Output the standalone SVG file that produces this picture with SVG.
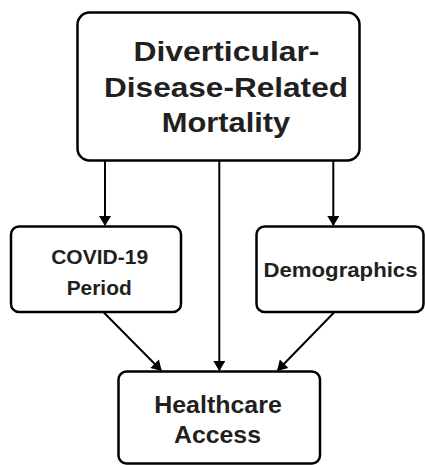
<svg xmlns="http://www.w3.org/2000/svg" width="425" height="465" viewBox="0 0 425 465">
<style>
.box{fill:#fff;stroke:#000;stroke-width:2.5}
.lbl{font-family:"Liberation Sans",Arial,sans-serif;font-weight:bold;fill:#231f20;text-anchor:middle}
.con{stroke:#000;stroke-width:2;fill:none}
</style>
<defs>
<marker id="ah" markerUnits="userSpaceOnUse" markerWidth="12" markerHeight="12" viewBox="0 0 10 12" refX="9" refY="6" orient="auto">
<path d="M0,0 L10,6 L0,12 z" fill="#000"/>
</marker>
</defs>
<rect width="425" height="465" fill="#fff"/>
<g id="connectors">
<line class="con" x1="105" y1="161" x2="105" y2="225" marker-end="url(#ah)"/>
<line class="con" x1="333.3" y1="161" x2="333.3" y2="225" marker-end="url(#ah)"/>
<line class="con" x1="219.3" y1="161" x2="219.3" y2="370" marker-end="url(#ah)"/>
<line class="con" x1="103.8" y1="312.5" x2="161" y2="370.2" marker-end="url(#ah)"/>
<line class="con" x1="334" y1="312.5" x2="277.8" y2="370.2" marker-end="url(#ah)"/>
</g>
<g id="mortality">
<rect class="box" x="77.5" y="12.5" width="282" height="148" rx="12"/>
<text class="lbl" font-size="28" x="226.5" y="61" textLength="186" lengthAdjust="spacingAndGlyphs">Diverticular-</text>
<text class="lbl" font-size="28" x="226" y="96.7" textLength="244" lengthAdjust="spacingAndGlyphs">Disease-Related</text>
<text class="lbl" font-size="28" x="226" y="131.5" textLength="128.5" lengthAdjust="spacingAndGlyphs">Mortality</text>
</g>
<g id="covid">
<rect class="box" x="11" y="226.5" width="170" height="85.5" rx="8"/>
<text class="lbl" font-size="19.5" x="99.7" y="263.5" textLength="97" lengthAdjust="spacingAndGlyphs">COVID-19</text>
<text class="lbl" font-size="19.5" x="99.2" y="295" textLength="65" lengthAdjust="spacingAndGlyphs">Period</text>
</g>
<g id="demographics">
<rect class="box" x="256.5" y="226.5" width="167" height="85.5" rx="8"/>
<text class="lbl" font-size="20" x="340.5" y="276.7" textLength="154" lengthAdjust="spacingAndGlyphs">Demographics</text>
</g>
<g id="healthcare">
<rect class="box" x="118.5" y="371.5" width="201.5" height="92" rx="8"/>
<text class="lbl" font-size="23" x="218" y="413.3" textLength="127.5" lengthAdjust="spacingAndGlyphs">Healthcare</text>
<text class="lbl" font-size="23" x="217.5" y="443.3" textLength="87" lengthAdjust="spacingAndGlyphs">Access</text>
</g>
</svg>
